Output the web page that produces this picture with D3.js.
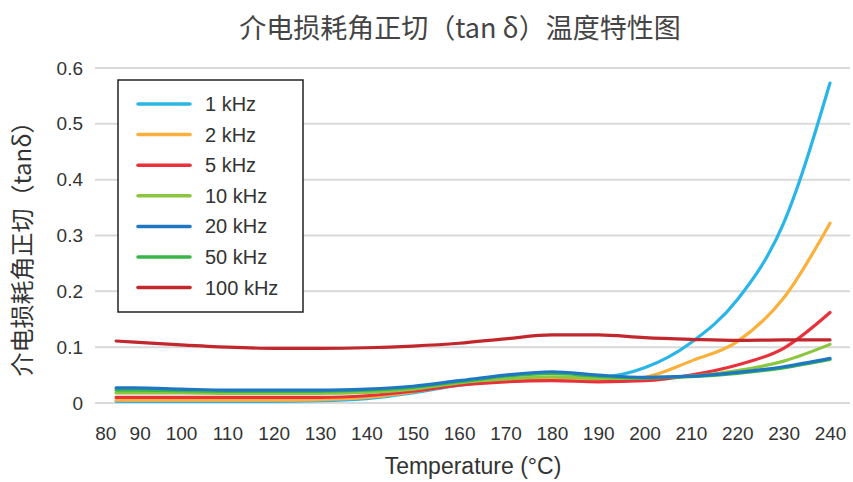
<!DOCTYPE html>
<html>
<head>
<meta charset="utf-8">
<script src="https://cdn.jsdelivr.net/npm/d3@7"></script>
<style>
  body { margin: 0; background: #fff; }
  svg text { font-family: "Liberation Sans", Arial, sans-serif; }
  .cjk { font-family: "Noto Sans CJK SC", "Noto Sans", sans-serif; }
</style>
</head>
<body>
<div id="container"></div>
<script>
/* DATA */
const temps = [86, 90, 100, 110, 120, 130, 140, 150, 160, 170, 180, 190, 200, 210, 220, 230, 240];
const xTicks = [80, 90, 100, 110, 120, 130, 140, 150, 160, 170, 180, 190, 200, 210, 220, 230, 240];
const yTicks = [0, 0.1, 0.2, 0.3, 0.4, 0.5, 0.6];

const seriesNames = ["1 kHz", "2 kHz", "5 kHz", "10 kHz", "20 kHz", "50 kHz", "100 kHz"];
const seriesColors = ["#29b5e8", "#fbb03b", "#e8313b", "#8cc63f", "#1f77c4", "#39b54a", "#c1272d"];

const tan1k   = [0.003, 0.003, 0.003, 0.003, 0.003, 0.004, 0.008, 0.018, 0.032, 0.040, 0.045, 0.046, 0.063, 0.108, 0.185, 0.322, 0.573];
const tan2k   = [0.005, 0.005, 0.005, 0.005, 0.005, 0.006, 0.010, 0.020, 0.033, 0.040, 0.042, 0.040, 0.046, 0.075, 0.110, 0.188, 0.322];
const tan5k   = [0.010, 0.010, 0.010, 0.010, 0.010, 0.010, 0.013, 0.021, 0.032, 0.038, 0.040, 0.038, 0.040, 0.050, 0.068, 0.098, 0.162];
const tan10k  = [0.018, 0.018, 0.018, 0.017, 0.017, 0.017, 0.019, 0.025, 0.036, 0.043, 0.047, 0.044, 0.045, 0.048, 0.058, 0.075, 0.105];
const tan20k  = [0.027, 0.027, 0.025, 0.023, 0.023, 0.023, 0.025, 0.030, 0.040, 0.050, 0.056, 0.050, 0.046, 0.048, 0.055, 0.065, 0.080];
const tan50k  = [0.023, 0.023, 0.022, 0.021, 0.021, 0.021, 0.023, 0.028, 0.038, 0.048, 0.053, 0.048, 0.045, 0.047, 0.053, 0.063, 0.078];
const tan100k = [0.111, 0.109, 0.104, 0.100, 0.098, 0.098, 0.099, 0.102, 0.107, 0.115, 0.122, 0.122, 0.117, 0.114, 0.112, 0.113, 0.113];

const seriesValues = [tan1k, tan2k, tan5k, tan10k, tan20k, tan50k, tan100k];
// draw order: 50 kHz sits under 20 kHz, 100 kHz on top
const drawOrder = [0, 1, 2, 3, 5, 4, 6];

/* LAYOUT */
const width = 853, height = 482;
const gridLeft = 95, gridRight = 850;

const svg = d3.select("#container")
  .append("svg")
  .attr("width", width)
  .attr("height", height);

const x = d3.scaleLinear().domain([100, 240]).range([181, 830]);
const y = d3.scaleLinear().domain([0, 0.6]).range([403, 68]);

// GRIDLINES
svg.selectAll("line.grid")
  .data(yTicks)
  .join("line")
  .attr("class", "grid")
  .attr("x1", gridLeft)
  .attr("x2", gridRight)
  .attr("y1", d => y(d))
  .attr("y2", d => y(d))
  .attr("stroke", "#d9d9d9")
  .attr("stroke-width", 2);

// Y AXIS
const yAxis = svg.append("g")
  .attr("transform", `translate(${gridLeft - 9},0)`)
  .call(d3.axisLeft(y).tickValues(yTicks).tickSize(0)
    .tickFormat(d => d === 0 ? "0" : d3.format(".1f")(d)));
yAxis.select(".domain").remove();
yAxis.selectAll("text")
  .attr("font-size", 19)
  .attr("fill", "#333")
  .attr("font-family", "Liberation Sans, Arial, sans-serif");

// X AXIS
const xAxis = svg.append("g")
  .attr("transform", `translate(0,${y(0) + 20})`)
  .call(d3.axisBottom(x).tickValues(xTicks).tickSize(0).tickFormat(d3.format("d")));
xAxis.select(".domain").remove();
xAxis.selectAll("text")
  .attr("font-size", 19)
  .attr("fill", "#333")
  .attr("font-family", "Liberation Sans, Arial, sans-serif")
  // the first two labels are squeezed in next to the plot edge
  .attr("dx", d => d === 80 ? 17 : d === 90 ? 5 : 0);

// LINES
const line = d3.line()
  .x((d, i) => x(temps[i]))
  .y(d => y(d))
  .curve(d3.curveMonotoneX);

svg.selectAll("path.series")
  .data(drawOrder)
  .join("path")
  .attr("class", "series")
  .attr("d", i => line(seriesValues[i]))
  .attr("fill", "none")
  .attr("stroke", i => seriesColors[i])
  .attr("stroke-width", 3.2)
  .attr("stroke-linejoin", "round")
  .attr("stroke-linecap", "round");

// TITLES
svg.append("text")
  .attr("class", "cjk")
  .attr("x", 460)
  .attr("y", 38)
  .attr("text-anchor", "middle")
  .attr("font-size", 27)
  .attr("fill", "#444")
  .text("介电损耗角正切（tan δ）温度特性图");

svg.append("text")
  .attr("class", "cjk")
  .attr("transform", `translate(31,243) rotate(-90)`)
  .attr("text-anchor", "middle")
  .attr("font-size", 24)
  .attr("fill", "#333")
  .text("介电损耗角正切（tanδ）");

svg.append("text")
  .attr("x", 473)
  .attr("y", 474)
  .attr("text-anchor", "middle")
  .attr("font-size", 23)
  .attr("fill", "#333")
  .text("Temperature (°C)");

// LEGEND
const legend = svg.append("g").attr("transform", "translate(118,80)");
legend.append("rect")
  .attr("width", 185)
  .attr("height", 232)
  .attr("fill", "#fff")
  .attr("stroke", "#222")
  .attr("stroke-width", 1.5);

const items = legend.selectAll("g.item")
  .data(seriesNames)
  .join("g")
  .attr("class", "item")
  .attr("transform", (d, i) => `translate(0,${24 + i * 30.6})`);

items.append("line")
  .attr("x1", 20)
  .attr("x2", 72)
  .attr("stroke", (d, i) => seriesColors[i])
  .attr("stroke-width", 3.5)
  .attr("stroke-linecap", "round");

items.append("text")
  .attr("x", 87)
  .attr("dy", "0.35em")
  .attr("font-size", 20)
  .attr("fill", "#333")
  .text(d => d);
</script>
</body>
</html>
